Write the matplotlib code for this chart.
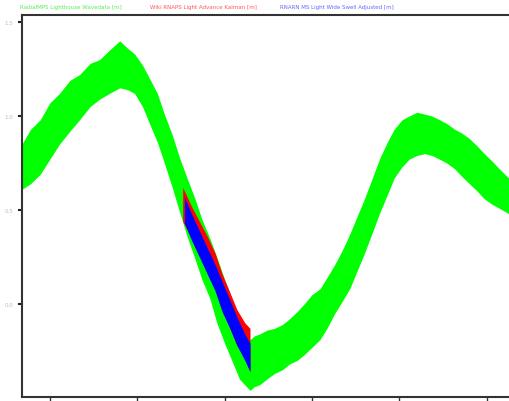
import matplotlib
matplotlib.use("Agg")
import matplotlib.pyplot as plt

# green: wide noisy band, read as upper / lower envelope
GREEN_X = [68, 78, 89, 100, 111, 123, 134, 146, 157, 168, 180, 189, 197, 206,
           214, 223, 231, 240, 249, 257, 266, 274, 283, 291, 300, 309, 317,
           323, 329, 334, 340, 348, 357, 366, 374, 383, 391, 400, 409, 417,
           426, 434, 443, 451, 460, 469, 477, 486, 494, 503, 511, 520, 529,
           537, 546, 554, 563, 571, 580, 589, 597, 606, 614, 625]
GREEN_HI = [0.85, 0.93, 0.98, 1.07, 1.12, 1.19, 1.22, 1.28, 1.30, 1.35, 1.40,
            1.36, 1.33, 1.27, 1.20, 1.12, 1.01, 0.90, 0.77, 0.67, 0.56, 0.45,
            0.35, 0.25, 0.13, 0.02, -0.08, -0.14, -0.19, -0.17, -0.16, -0.14,
            -0.13, -0.11, -0.08, -0.04, 0.00, 0.05, 0.08, 0.14, 0.21, 0.28,
            0.37, 0.46, 0.56, 0.67, 0.77, 0.86, 0.93, 0.98, 1.00, 1.02, 1.01,
            1.00, 0.98, 0.96, 0.93, 0.91, 0.88, 0.84, 0.80, 0.76, 0.72, 0.67]
GREEN_LO = [0.61, 0.64, 0.69, 0.77, 0.85, 0.92, 0.98, 1.05, 1.09, 1.12, 1.15,
            1.14, 1.12, 1.05, 0.96, 0.86, 0.75, 0.62, 0.48, 0.36, 0.24, 0.13,
            0.03, -0.10, -0.21, -0.31, -0.40, -0.43, -0.46, -0.44, -0.43, -0.40,
            -0.37, -0.35, -0.32, -0.30, -0.27, -0.23, -0.19, -0.13, -0.05, 0.01,
            0.08, 0.17, 0.27, 0.38, 0.48, 0.58, 0.67, 0.73, 0.77, 0.79, 0.80,
            0.79, 0.77, 0.75, 0.72, 0.68, 0.64, 0.60, 0.56, 0.53, 0.51, 0.48]

RED_X = [252, 262, 271, 280, 289, 297, 306, 314, 323, 329]
RED_HI = [0.62, 0.52, 0.44, 0.36, 0.27, 0.16, 0.06, -0.03, -0.10, -0.13]
RED_LO = [0.44, 0.35, 0.27, 0.17, 0.08, -0.03, -0.13, -0.22, -0.29, -0.36]

BLUE_X = [254, 262, 271, 280, 289, 297, 306, 314, 323, 329]
BLUE_HI = [0.57, 0.48, 0.39, 0.30, 0.21, 0.12, 0.02, -0.07, -0.16, -0.21]
BLUE_LO = [0.43, 0.34, 0.25, 0.16, 0.07, -0.04, -0.13, -0.22, -0.30, -0.36]

X_TICKS = [100, 200, 300, 400, 500, 600]
Y_TICKS = [0.0, 0.5, 1.0, 1.5]
LEGEND = [("RadialMPS Lighthouse Wavedata [m]", "#55ee55"),
          ("Wiki RNAPS Light Advance Kalman [m]", "#ff5555"),
          ("RNARN MS Light Wide Swell Adjusted [m]", "#6666ff")]

fig = plt.figure(figsize=(5.09, 4.02), dpi=100)
ax = fig.add_axes([0.043, 0.01, 0.965, 0.95])

ax.fill_between(GREEN_X, GREEN_LO, GREEN_HI, color="#00ff00", lw=0)
ax.fill_between(RED_X, RED_LO, RED_HI, color="#ff0000", lw=0)
ax.fill_between(BLUE_X, BLUE_LO, BLUE_HI, color="#0000ff", lw=0)

ax.set_xlim(68, 630)
ax.set_ylim(-0.495, 1.537)
ax.set_xticks(X_TICKS)
ax.set_yticks(Y_TICKS)
ax.set_yticklabels([f"{v:.1f}" for v in Y_TICKS])
ax.tick_params(axis="x", direction="out", length=3, width=1, color="#333333",
               labelbottom=False)
ax.tick_params(axis="y", direction="out", length=3, width=1.5, color="#222222",
               labelsize=4, labelcolor="#bbbbbb", pad=3)
for s in ax.spines.values():
    s.set_color("#333333")
    s.set_linewidth(1.5)

xs = [0.04, 0.295, 0.55]
for (txt, col), x in zip(LEGEND, xs):
    fig.text(x, 0.982, txt, color=col, fontsize=4, va="center", ha="left")

fig.savefig("out.png", dpi=100)
